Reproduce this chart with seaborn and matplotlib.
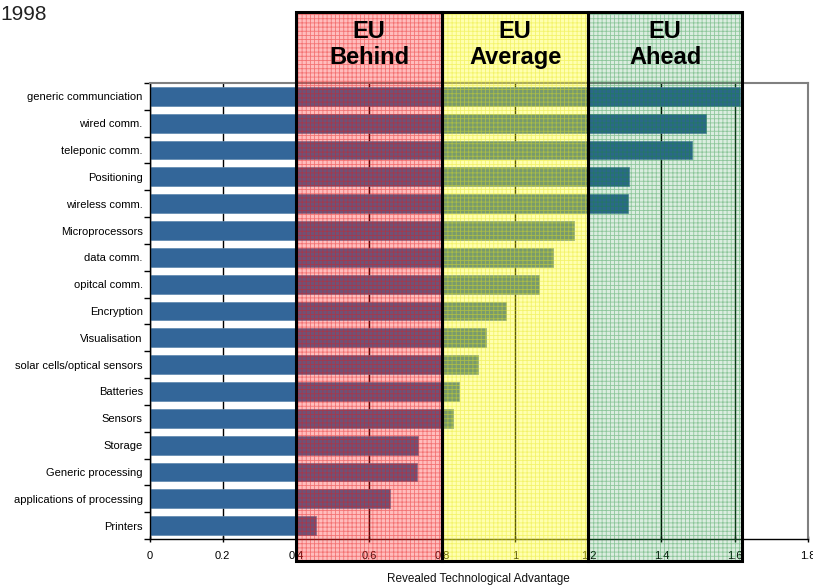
import numpy as np, pandas as pd
import matplotlib as mpl, matplotlib.pyplot as plt
import seaborn as sns
from matplotlib.patches import Rectangle

#%% data
categories = ['generic communciation', 'wired comm.', 'teleponic comm.', 'Positioning',
              'wireless comm.', 'Microprocessors', 'data comm.', 'opitcal comm.',
              'Encryption', 'Visualisation', 'solar cells/optical sensors', 'Batteries',
              'Sensors', 'Storage', 'Generic processing', 'applications of processing',
              'Printers']
rta = [1.615, 1.521, 1.484, 1.311, 1.308, 1.161, 1.102, 1.064, 0.974, 0.920,
       0.898, 0.845, 0.830, 0.734, 0.731, 0.657, 0.454]
xticks = [0, 0.2, 0.4, 0.6, 0.8, 1.0, 1.2, 1.4, 1.6, 1.8]
xticklabels = ['0', '0.2', '0.4', '0.6', '0.8', '1', '1.2', '1.4', '1.6', '1.8']
zone_edges = [0.4, 0.8, 1.2, 1.62]
zone_labels = ['EU\nBehind', 'EU\nAverage', 'EU\nAhead']
zone_fill = [(1, 0.15, 0.15, 0.30), (1, 1, 0.1, 0.34), (0, 0.5, 0.15, 0.14)]
zone_hatch = [(0.9, 0.1, 0.1, 0.45), (0.9, 0.9, 0.1, 0.45), (0.1, 0.55, 0.2, 0.40)]

df = pd.DataFrame({'cat': categories, 'rta': rta})

#%% plot
sns.set_style('white')
mpl.rcParams['font.family'] = ['Liberation Sans', 'DejaVu Sans']
mpl.rcParams['hatch.linewidth'] = 0.6
mpl.rcParams['text.color'] = 'black'
mpl.rcParams['axes.labelcolor'] = '#111111'
mpl.rcParams['xtick.color'] = 'black'
mpl.rcParams['ytick.color'] = 'black'

fig = plt.figure(figsize=(8.13, 5.86), dpi=100)
ax = fig.add_axes([149.7/813, 47/586, (807.7-149.7)/813, 456/586])

ax.grid(axis='x', color='black', linewidth=1)
ax.set_axisbelow(True)
sns.barplot(data=df, x='rta', y='cat', color='#336699', width=0.7,
            saturation=1, edgecolor='#5d86ad', linewidth=0.5, ax=ax)

ax.set_xlim(0, 1.8)
ax.set_ylim(len(categories) - 0.5, -0.5)
ax.set_xticks(xticks)
ax.set_xticklabels(xticklabels, fontsize=8)
ax.set_yticks(np.arange(len(categories) + 1) - 0.5, minor=True)
ax.tick_params(axis='y', which='major', length=0, labelsize=8, pad=5)
ax.tick_params(axis='y', which='minor', left=True, length=4, width=1, color='black')
ax.tick_params(axis='x', which='major', bottom=True, direction='inout', length=5,
               width=1, color='black', pad=6)
ax.set_xlabel('Revealed Technological Advantage', fontsize=8.5, labelpad=9)
ax.set_ylabel('')

for s in ['left', 'bottom']:
    ax.spines[s].set_color('black')
    ax.spines[s].set_linewidth(1)
for s in ['top', 'right']:
    ax.spines[s].set_color('#808080')
    ax.spines[s].set_linewidth(1.5)

# shaded zones reaching above and below the plot area
trans = ax.get_xaxis_transform()
y0, y1 = -0.048, 1.156
for i, lab in enumerate(zone_labels):
    x0, x1 = zone_edges[i], zone_edges[i + 1]
    ax.add_patch(Rectangle((x0, y0), x1 - x0, y1 - y0, transform=trans,
                           facecolor=zone_fill[i], edgecolor='none',
                           clip_on=False, zorder=3))
    ax.add_patch(Rectangle((x0, y0), x1 - x0, y1 - y0, transform=trans,
                           facecolor='none', edgecolor=zone_hatch[i], hatch='++++',
                           linewidth=0, clip_on=False, zorder=3))
    ax.add_patch(Rectangle((x0, y0), x1 - x0, y1 - y0, transform=trans,
                           facecolor='none', edgecolor='black', linewidth=2.2,
                           clip_on=False, zorder=4))
    ax.text((x0 + x1) / 2, 1.085, lab, transform=trans, ha='center', va='center',
            fontsize=17, fontweight='bold', color='black', linespacing=1.15,
            zorder=5)

fig.text(0.0, 0.992, '1998', ha='left', va='top', fontsize=15, color='#222222')

fig.savefig('out.png', dpi=100, facecolor='white')
